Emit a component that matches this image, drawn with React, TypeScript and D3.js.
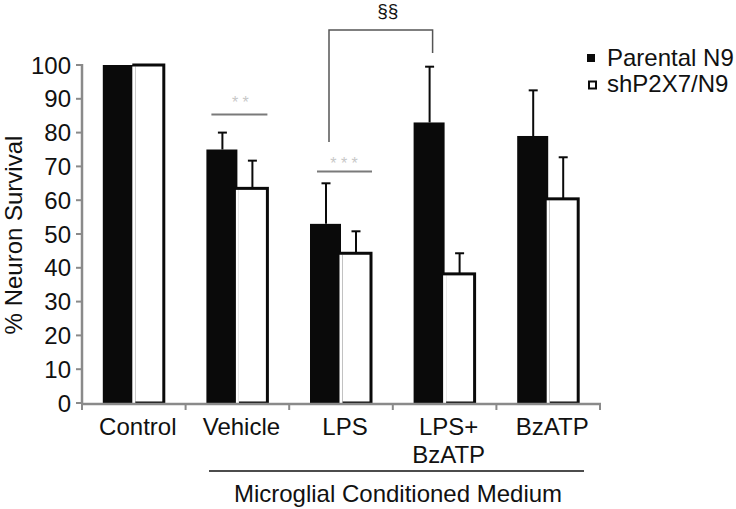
import React from "react";
import * as d3 from "d3";

const categories = ["Control", "Vehicle", "LPS", "LPS+|BzATP", "BzATP"];
const parental = [100, 75, 53, 83, 79];
const parentalErr = [0, 5, 12, 16.5, 13.5];
const shP2X7 = [100, 63.5, 44.3, 38.2, 60.4];
const shP2X7Err = [0, 8.2, 6.5, 6.1, 12.3];
const yTicks = [0, 10, 20, 30, 40, 50, 60, 70, 80, 90, 100];
const seriesNames = ["Parental N9", "shP2X7/N9"];

const W = 736;
const H = 509;
const FONT = "'Liberation Sans', Arial, sans-serif";

export default function App() {
  const x = d3.scaleBand<string>().domain(categories).range([82, 600]).padding(0);
  const y = d3.scaleLinear().domain([0, 100]).range([403, 65]);
  const bw = 30;
  const cx = (c: string) => (x(c) as number) + x.bandwidth() / 2;
  const axisColor = "#8a8a8a";

  return (
    <svg width={W} height={H} style={{ position: "absolute", left: 0, top: 0, background: "#fff" }} fontFamily={FONT}>
      {/* bars */}
      {categories.map((c, i) => {
        const c0 = cx(c);
        return (
          <g key={c}>
            <rect x={c0 - bw - 1} y={y(parental[i])} width={bw + 1} height={y(0) - y(parental[i])} fill="#0a0a0a" />
            <rect x={c0} y={y(shP2X7[i])} width={bw} height={y(0) - y(shP2X7[i])} fill="#fff" stroke="#0a0a0a" strokeWidth={3} />
            <rect x={c0 - 1.5} y={y(shP2X7[i]) + 1.5} width={3} height={y(0) - y(shP2X7[i])} fill="#fff" />
          </g>
        );
      })}
      {/* error bars */}
      {categories.map((c, i) => {
        const c0 = cx(c);
        const out: any[] = [];
        if (parentalErr[i] > 0) {
          const bx = c0 - bw / 2;
          out.push(
            <g key={"pe" + c} stroke="#0a0a0a" strokeWidth={2}>
              <line x1={bx} x2={bx} y1={y(parental[i])} y2={y(parental[i] + parentalErr[i])} />
              <line x1={bx - 4.5} x2={bx + 4.5} y1={y(parental[i] + parentalErr[i])} y2={y(parental[i] + parentalErr[i])} />
            </g>
          );
        }
        if (shP2X7Err[i] > 0) {
          const bx = c0 + bw / 2;
          out.push(
            <g key={"se" + c} stroke="#0a0a0a" strokeWidth={2}>
              <line x1={bx} x2={bx} y1={y(shP2X7[i])} y2={y(shP2X7[i] + shP2X7Err[i])} />
              <line x1={bx - 4.5} x2={bx + 4.5} y1={y(shP2X7[i] + shP2X7Err[i])} y2={y(shP2X7[i] + shP2X7Err[i])} />
            </g>
          );
        }
        return out;
      })}
      {/* y axis */}
      <line x1={82} x2={82} y1={y(100) - 1} y2={y(0) + 1} stroke={axisColor} strokeWidth={2.5} />
      {yTicks.map((t) => (
        <g key={t}>
          <line x1={76} x2={82} y1={y(t)} y2={y(t)} stroke={axisColor} strokeWidth={2} />
          <text x={71} y={y(t)} dy="0.36em" textAnchor="end" fontSize={24} fill="#111">{t}</text>
        </g>
      ))}
      <text transform={`translate(22,${(y(0) + y(100)) / 2 + 1}) rotate(-90)`} textAnchor="middle" fontSize={24} fill="#111">% Neuron Survival</text>
      {/* x axis */}
      <line x1={81} x2={601} y1={y(0) + 1} y2={y(0) + 1} stroke={axisColor} strokeWidth={2.5} />
      {[...categories.map((c) => x(c) as number), 600].map((v, i) => (
        <line key={i} x1={v} x2={v} y1={y(0)} y2={y(0) + 7} stroke={axisColor} strokeWidth={2} />
      ))}
      {categories.map((c) => {
        const lines = c.split("|");
        return (
          <text key={c} x={cx(c) + 4} y={435} textAnchor="middle" fontSize={24} fill="#111">
            {lines.map((l, j) => (
              <tspan key={j} x={cx(c) + 4} dy={j === 0 ? 0 : 28}>{l}</tspan>
            ))}
          </text>
        );
      })}
      <line x1={209} x2={584} y1={471} y2={471} stroke="#111" strokeWidth={1.5} />
      <text x={398} y={502} textAnchor="middle" fontSize={24} fill="#111">Microglial Conditioned Medium</text>
      {/* significance */}
      <line x1={cx("Vehicle") - 26} x2={cx("Vehicle") + 30} y1={114.5} y2={114.5} stroke="#7a7a7a" strokeWidth={2} />
      <text x={cx("Vehicle") + 3} y={108} textAnchor="middle" fontSize={16} fill="#c8c8c8">* *</text>
      <line x1={cx("LPS") - 24} x2={cx("LPS") + 31} y1={171.5} y2={171.5} stroke="#7a7a7a" strokeWidth={2} />
      <text x={cx("LPS") + 3} y={169} textAnchor="middle" fontSize={16} fill="#c8c8c8">* * *</text>
      <path
        d={`M${cx("LPS") - bw / 2 + 3},142 V30 H${cx("LPS+|BzATP") - bw / 2 + 3} V53`}
        fill="none" stroke="#555" strokeWidth={1.5}
      />
      <text x={(cx("LPS") + cx("LPS+|BzATP")) / 2 - 5} y={17} textAnchor="middle" fontSize={19} fill="#111">§§</text>
      {/* legend */}
      <rect x={587} y={54} width={8} height={8} fill="#0a0a0a" />
      <rect x={589} y={81.5} width={7} height={7} fill="#fff" stroke="#0a0a0a" strokeWidth={2} />
      <text x={607} y={66} fontSize={24} fill="#111">{seriesNames[0]}</text>
      <text x={607} y={92} fontSize={24} fill="#111">{seriesNames[1]}</text>
    </svg>
  );
}
